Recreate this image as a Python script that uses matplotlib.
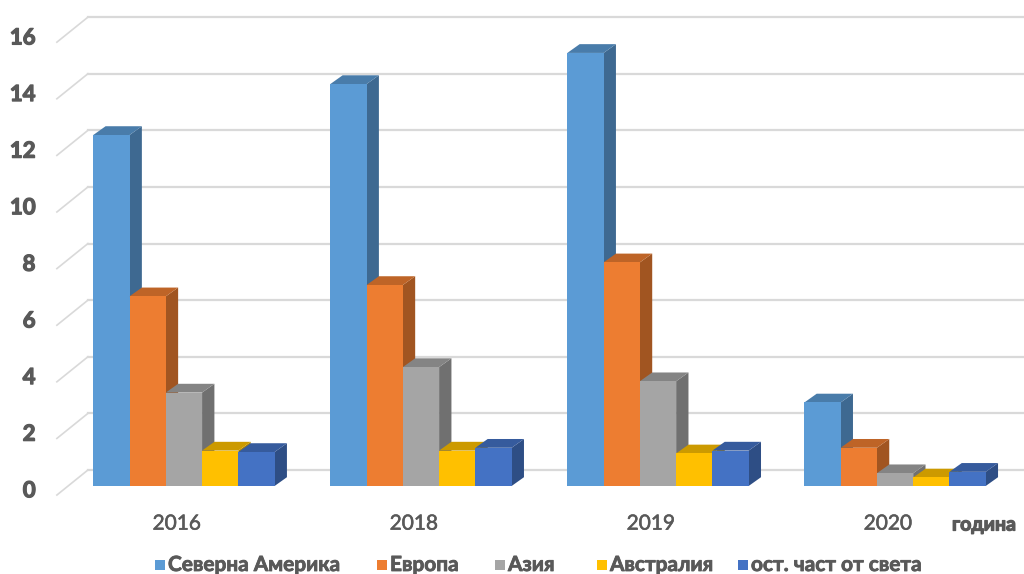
import matplotlib
matplotlib.use('Agg')
import matplotlib.pyplot as plt
import matplotlib.patheffects as pe
from matplotlib.patches import Polygon
from matplotlib.colors import to_rgb

plt.rcParams['font.family'] = ['Lato', 'Open Sans', 'DejaVu Sans']

years = ['2016', '2018', '2019', '2020']
regions = ['Северна Америка', 'Европа', 'Азия', 'Австралия', 'ост. част от света']
colors = ['#5B9BD5', '#ED7D31', '#A5A5A5', '#FFC000', '#4472C4']

north_america = [12.4, 14.2, 15.3, 2.95]
europe = [6.7, 7.1, 7.9, 1.35]
asia = [3.3, 4.2, 3.7, 0.45]
australia = [1.25, 1.25, 1.15, 0.3]
rest_of_world = [1.2, 1.35, 1.25, 0.5]
series = [north_america, europe, asia, australia, rest_of_world]

yticks = [0, 2, 4, 6, 8, 10, 12, 14, 16]

# 3D look: bar depth and wall offsets (x in category units, y in value units)
bar_w = 0.153
bar_dx, bar_dy = 0.052, 0.31
wall_x0, wall_dy = -0.405, 0.565
front_x0, front_dy = -0.536, -0.32
grid_col = '#d9d9d9'
text_col = '#595959'
bold = [pe.withStroke(linewidth=0.9, foreground=text_col)]
semi = [pe.withStroke(linewidth=0.6, foreground=text_col)]
medium = [pe.withStroke(linewidth=0.4, foreground=text_col)]


def shade(c, f):
    r, g, b = to_rgb(c)
    return (r * f, g * f, b * f)


fig = plt.figure(figsize=(10.24, 5.74), dpi=100)
ax = fig.add_axes([0, 0, 1, 1])
ax.set_xlim(-0.776, 3.544)
ax.set_ylim(-3.11, 17.17)
ax.axis('off')

# back wall gridlines with the diagonal floor/side edge
for v in yticks:
    ax.plot([wall_x0, 3.6], [v + wall_dy, v + wall_dy], color=grid_col, lw=1.6, zorder=1)
    ax.plot([front_x0, wall_x0], [v + front_dy, v + wall_dy], color=grid_col, lw=1.2, zorder=1)
    ax.text(-0.626, v + front_dy + 0.15, str(v), ha='right', va='center',
            fontsize=16, fontweight='bold', color=text_col, path_effects=bold)


def bar3d(x0, h, color, z):
    x1 = x0 + bar_w
    side = [(x1, 0), (x1 + bar_dx, bar_dy), (x1 + bar_dx, h + bar_dy), (x1, h)]
    top = [(x0, h), (x0 + bar_dx, h + bar_dy), (x1 + bar_dx, h + bar_dy), (x1, h)]
    ax.add_patch(Polygon(side, closed=True, fc=shade(color, 0.68), ec='none', zorder=z))
    ax.add_patch(Polygon(top, closed=True, fc=shade(color, 0.8), ec='none', zorder=z))
    ax.bar(x0, h, width=bar_w, align='edge', color=color, zorder=z + 0.5)


for i in range(len(years)):
    for j, vals in enumerate(series):
        x0 = i - 2.5 * bar_w + j * bar_w
        bar3d(x0, vals[i], colors[j], 2 + j)
    ax.text(i - 0.03, -1.33, years[i], ha='center', va='center',
            fontsize=15, color=text_col, path_effects=medium)

ax.text(952 / 1024, 1 - 525 / 574, 'година', transform=fig.transFigure, ha='left',
        va='center', fontsize=14, fontweight='bold', color=text_col, path_effects=bold)

# legend along the bottom
leg_x = [155, 377, 495, 597, 738]
for lx, name, c in zip(leg_x, regions, colors):
    fig.patches.append(plt.Rectangle((lx / 1024, 1 - 570 / 574), 10 / 1024, 10 / 574,
                                     transform=fig.transFigure, fc=c, ec='none'))
    fig.text((lx + 13) / 1024, 1 - 565 / 574, name, ha='left', va='center',
             fontsize=15, fontweight='bold', color=text_col, path_effects=semi)

fig.savefig('out.png', dpi=100)
